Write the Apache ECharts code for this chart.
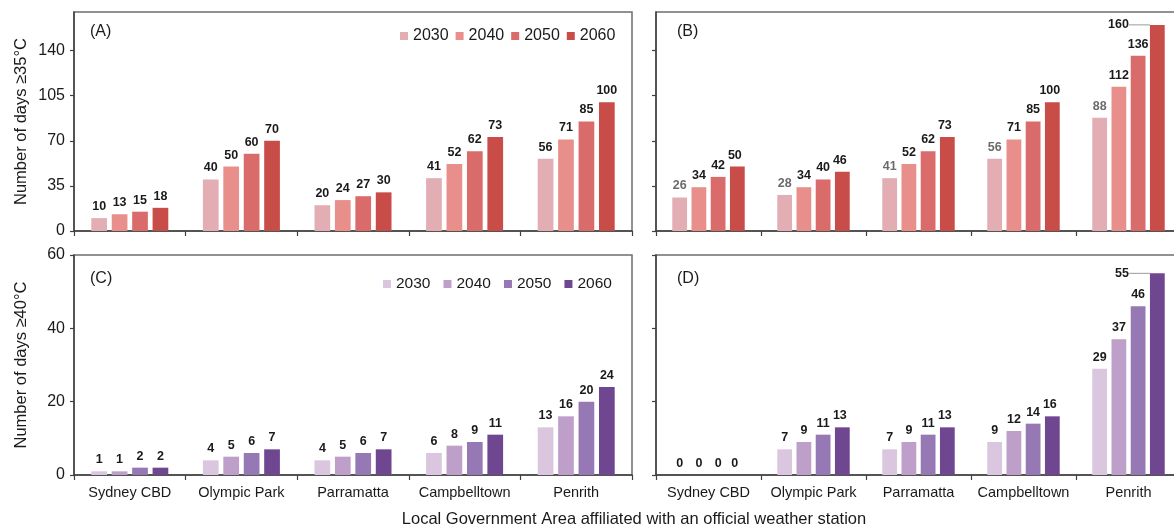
<!DOCTYPE html>
<html>
<head>
<meta charset="utf-8">
<script src="https://cdn.jsdelivr.net/npm/echarts@6/dist/echarts.min.js"></script>
<style>html,body{margin:0;padding:0;background:#fff}#c{width:1174px;height:530px}</style>
</head>
<body>
<div id="c"></div>
<script>
// ---- data ----
const categories = ['Sydney CBD', 'Olympic Park', 'Parramatta', 'Campbelltown', 'Penrith'];
const years = ['2030', '2040', '2050', '2060'];
const yTicksHot = [0, 35, 70, 105, 140];
const yTicksVeryHot = [0, 20, 40, 60];

// Panel A: days >= 35°C
const a2030 = [10, 40, 20, 41, 56];
const a2040 = [13, 50, 24, 52, 71];
const a2050 = [15, 60, 27, 62, 85];
const a2060 = [18, 70, 30, 73, 100];
// Panel B: days >= 35°C
const b2030 = [26, 28, 41, 56, 88];
const b2040 = [34, 34, 52, 71, 112];
const b2050 = [42, 40, 62, 85, 136];
const b2060 = [50, 46, 73, 100, 160];
// Panel C: days >= 40°C
const c2030 = [1, 4, 4, 6, 13];
const c2040 = [1, 5, 5, 8, 16];
const c2050 = [2, 6, 6, 9, 20];
const c2060 = [2, 7, 7, 11, 24];
// Panel D: days >= 40°C
const d2030 = [0, 7, 7, 9, 29];
const d2040 = [0, 9, 9, 12, 37];
const d2050 = [0, 11, 11, 14, 46];
const d2060 = [0, 13, 13, 16, 55];

const reds = ['#e2adb3', '#e88f8c', '#d96b6a', '#c84c48'];
const purples = ['#dac6df', '#bd9fca', '#9678b4', '#6f4690'];

const FONT = '"Liberation Sans", Arial, sans-serif';

const grids = [
  { left: 74, top: 12, width: 558, height: 219 },
  { left: 656, top: 12, width: 525, height: 219 },
  { left: 74, top: 255, width: 558, height: 220 },
  { left: 656, top: 255, width: 525, height: 220 }
].map(g => Object.assign(g, { show: true, outerBoundsMode: 'none', containLabel: false, borderColor: '#6e6e6e', borderWidth: 1.5, backgroundColor: 'transparent' }));

const xAxes = grids.map((g, i) => ({
  type: 'category', gridIndex: i, data: categories,
  axisLine: { lineStyle: { color: '#404040', width: 1.5 } },
  axisTick: { show: true, length: 5, inside: false, lineStyle: { color: '#404040', width: 1.2 } },
  axisLabel: { show: i >= 2, interval: 0, fontFamily: FONT, fontSize: 14.5, color: '#1a1a1a', margin: 10 }
}));

function yAxisFor(i) {
  const hot = i < 2;
  const ticks = hot ? yTicksHot : yTicksVeryHot;
  return {
    type: 'value', gridIndex: i, min: 0, max: hot ? 170 : 60, interval: hot ? 35 : 20,
    name: i === 0 ? 'Number of days ≥35°C' : (i === 2 ? 'Number of days ≥40°C' : ''),
    nameLocation: 'middle', nameGap: 44, nameRotate: 90,
    nameTextStyle: { fontFamily: FONT, fontSize: 16.5, color: '#1a1a1a' },
    splitLine: { show: false },
    axisLine: { show: true, lineStyle: { color: '#404040', width: 1.5 } },
    axisTick: { show: true, length: 4, customValues: ticks, lineStyle: { color: '#404040', width: 1.2 } },
    axisLabel: { show: i === 0 || i === 2, customValues: ticks, fontFamily: FONT, fontSize: 16, color: '#1a1a1a', margin: 9 }
  };
}
const yAxes = [0, 1, 2, 3].map(yAxisFor);

const panelData = [
  [a2030, a2040, a2050, a2060],
  [b2030, b2040, b2050, b2060],
  [c2030, c2040, c2050, c2060],
  [d2030, d2040, d2050, d2060]
];

const series = [];
panelData.forEach((arrs, p) => {
  const cols = p < 2 ? reds : purples;
  arrs.forEach((arr, k) => {
    const isLast = k === 3 && (p === 1 || p === 3);
    const data = arr.map((v, idx) => (isLast && idx === arr.length - 1)
      ? { value: v, labelLine: { show: true, lineStyle: { color: '#9a9a9a', width: 1 } } }
      : v);
    const s = {
      type: 'bar',
      name: p < 2 ? years[k] : 'P' + years[k],
      xAxisIndex: p, yAxisIndex: p,
      data: data,
      barCategoryGap: '31%', barGap: '30%',
      itemStyle: { color: cols[k] },
      label: {
        show: true, position: 'top', distance: 5,
        fontFamily: FONT, fontSize: 12.5, fontWeight: 'bold',
        color: (p === 1 && k === 0) ? '#6b6b6b' : '#1a1a1a'
      },
      emphasis: { disabled: true }
    };
    if (isLast) {
      s.labelLayout = function (params) {
        if (params.dataIndex !== arr.length - 1) return {};
        return { x: params.rect.x - 16, y: params.rect.y, align: 'right', verticalAlign: 'middle' };
      };
      s.label.padding = [0, 5, 0, 0];
    }
    series.push(s);
  });
});

const chart = echarts.init(document.getElementById('c'), null, { renderer: 'canvas' });
chart.setOption({
  animation: false,
  backgroundColor: '#fff',
  textStyle: { fontFamily: FONT },
  grid: grids,
  xAxis: xAxes,
  yAxis: yAxes,
  legend: [
    {
      data: years, left: 400, top: 28, orient: 'horizontal',
      icon: 'rect', itemWidth: 8, itemHeight: 8, itemGap: 7, padding: 0,
      textStyle: { fontFamily: FONT, fontSize: 16, color: '#1a1a1a' },
      selectedMode: false
    },
    {
      data: years.map(y => 'P' + y), left: 383, top: 276, orient: 'horizontal',
      icon: 'rect', itemWidth: 8, itemHeight: 8, itemGap: 13, padding: 0,
      formatter: n => n.slice(1),
      textStyle: { fontFamily: FONT, fontSize: 15.5, color: '#1a1a1a' },
      selectedMode: false
    }
  ],
  title: [
    { text: '(A)', left: 90, top: 24 },
    { text: '(B)', left: 677, top: 24 },
    { text: '(C)', left: 90, top: 271 },
    { text: '(D)', left: 677, top: 271 }
  ].map(t => Object.assign(t, { padding: 0, textStyle: { fontFamily: FONT, fontSize: 16, fontWeight: 'normal', color: '#1a1a1a' } })),
  graphic: [{
    type: 'text', x: 634, y: 519,
    style: {
      text: 'Local Government Area affiliated with an official weather station',
      fontFamily: FONT, fontSize: 16.5, fill: '#1a1a1a',
      textAlign: 'center', textVerticalAlign: 'middle'
    }
  }],
  series: series
});
</script>
</body>
</html>
